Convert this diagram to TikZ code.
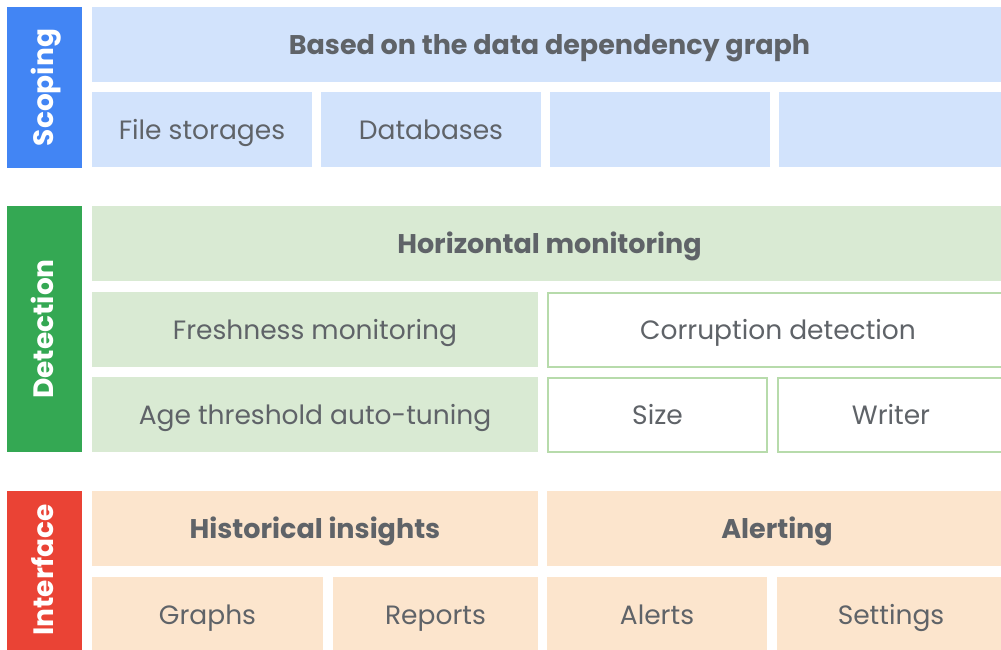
\documentclass[tikz,border=0pt]{standalone}
\usepackage{fontspec}
\setmainfont{Poppins}
\definecolor{txt}{HTML}{5F6368}
\definecolor{blueD}{HTML}{4285F4}
\definecolor{blueL}{HTML}{D2E3FC}
\definecolor{greenD}{HTML}{34A853}
\definecolor{greenL}{HTML}{D9EAD3}
\definecolor{greenB}{HTML}{B7DBAB}
\definecolor{redD}{HTML}{EA4335}
\definecolor{orangeL}{HTML}{FCE5CD}
\tikzset{
  cell/.style={anchor=north west, inner sep=0pt, outer sep=0pt, text=txt,
    text height=24pt, text depth=5pt,
    font=\fontsize{26.5}{30}\selectfont},
  head/.style={cell, font=\fontsize{27}{30}\selectfont\bfseries},
  label/.style={anchor=center, inner sep=0pt, outer sep=0pt, text=txt,
    text height=24pt, text depth=5pt, font=\fontsize{26.5}{30}\selectfont},
  headlabel/.style={label, font=\fontsize{27}{30}\selectfont\bfseries},
  side/.style={anchor=north west, inner sep=0pt, outer sep=0pt},
  sidelabel/.style={anchor=center, rotate=90, inner sep=0pt, text=white,
    text height=22pt, text depth=5pt, font=\fontsize{28}{30}\selectfont\bfseries},
  outline/.style={anchor=north west, inner sep=0pt, outer sep=0pt,
    draw=greenB, line width=1.6pt, fill=white}
}
\begin{document}
\begin{tikzpicture}[x=1pt,y=-1pt]
\clip (0,0) rectangle (1001,649);
\useasboundingbox (0,0) rectangle (1001,649);
\fill[white] (0,0) rectangle (1001,649);

% Scoping
\node[side, fill=blueD, minimum width=75pt, minimum height=161pt] (scoping) at (7,7) {};
\node[sidelabel] at (scoping.center) (scopingT) {Scoping};
\node[head, fill=blueL, minimum width=915pt, minimum height=75pt] (dep) at (92,7) {Based on the data dependency graph};
\node[cell, fill=blueL, minimum width=220pt, minimum height=75pt] (files) at (92,92) {File storages};
\node[cell, fill=blueL, minimum width=220pt, minimum height=75pt] (db) at (321,92) {Databases};
\node[cell, fill=blueL, minimum width=220pt, minimum height=75pt] (e1) at (550,92) {};
\node[cell, fill=blueL, minimum width=230pt, minimum height=75pt] (e2) at (779,92) {};

% Detection
\node[side, fill=greenD, minimum width=75pt, minimum height=246pt] (detection) at (7,206) {};
\node[sidelabel] at (detection.center) (detectionT) {Detection};
\node[head, fill=greenL, minimum width=915pt, minimum height=75pt] (horiz) at (92,206) {Horizontal monitoring};
\node[cell, fill=greenL, minimum width=446pt, minimum height=75pt] (fresh) at (92,292) {Freshness monitoring};
\node[cell, fill=greenL, minimum width=446pt, minimum height=75pt] (age) at (92,377) {Age threshold auto-tuning};
\node[outline, minimum width=470pt, minimum height=74pt] (corr) at (548,293) {};
\node[label] at (778,330) (corrL) {Corruption detection};
\node[outline, minimum width=219pt, minimum height=74pt] (size) at (548,378) {};
\node[label] at (657.5,415) (sizeL) {Size};
\node[outline, minimum width=240pt, minimum height=74pt] (writer) at (778,378) {};
\node[label] at (891,415) (writerL) {Writer};

% Interface
\node[side, fill=redD, minimum width=75pt, minimum height=160pt] (interface) at (7,491) {};
\node[sidelabel] at (7+37.5,491+79) (interfaceT) {Interface};
\node[head, fill=orangeL, minimum width=446pt, minimum height=75pt] (hist) at (92,491) {Historical insights};
\node[side, fill=orangeL, minimum width=460pt, minimum height=75pt] (alerting) at (547,491) {};
\node[headlabel] at (777,528.5) (alertingL) {Alerting};
\node[cell, fill=orangeL, minimum width=231pt, minimum height=75pt] (graphs) at (92,577) {Graphs};
\node[cell, fill=orangeL, minimum width=205pt, minimum height=75pt] (reports) at (333,577) {Reports};
\node[cell, fill=orangeL, minimum width=220pt, minimum height=75pt] (alerts) at (547,577) {Alerts};
\node[side, fill=orangeL, minimum width=230pt, minimum height=75pt] (settings) at (777,577) {};
\node[label] at (891,614.5) (settingsL) {Settings};
\end{tikzpicture}
\end{document}
